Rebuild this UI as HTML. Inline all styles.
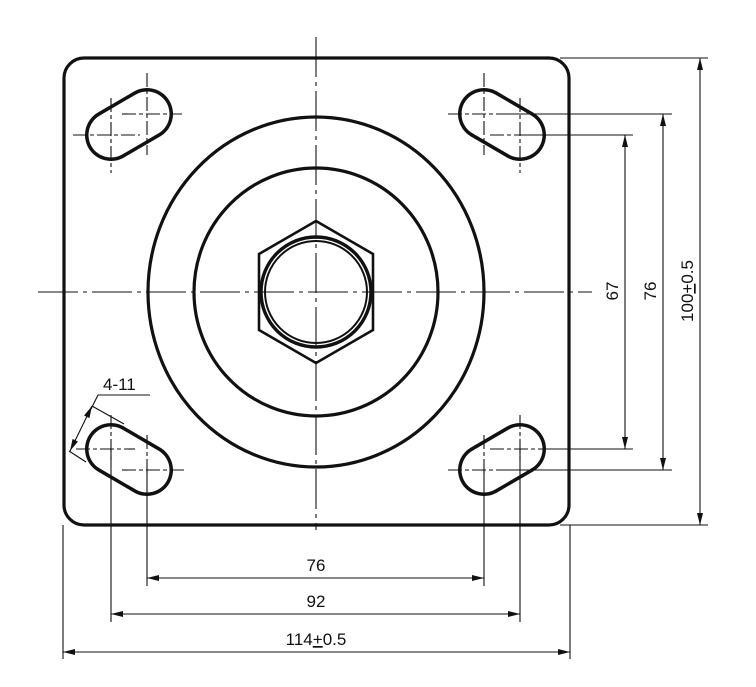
<!DOCTYPE html>
<html><head><style>
html,body{margin:0;padding:0;background:#fff;width:756px;height:687px;overflow:hidden}
svg{display:block}
text{font-family:"Liberation Sans",sans-serif;font-size:17px;fill:#111}
</style></head><body>
<svg width="756" height="687" viewBox="0 0 756 687" xmlns="http://www.w3.org/2000/svg">
<defs>
<marker id="a" viewBox="0 0 12 6" refX="12" refY="3" markerWidth="12" markerHeight="6" orient="auto-start-reverse" markerUnits="userSpaceOnUse"><path d="M0,0 L12,3 L0,6 z" fill="#111"/></marker>
</defs>
<g fill="none" stroke="#111">
<rect x="64" y="58" width="505" height="467" rx="20" stroke-width="3.2"/>
<ellipse cx="316" cy="292" rx="168" ry="175" stroke-width="3.2"/>
<ellipse cx="316" cy="292" rx="122" ry="124" stroke-width="3.2"/>
<polygon points="316,221 373,254 373,330 316,363 259,330 259,254" stroke-width="2.6"/>
<circle cx="316" cy="292" r="55" stroke-width="3.4"/>
<circle cx="316" cy="292" r="51" stroke-width="2"/>
<line x1="147" y1="114" x2="111" y2="135" stroke-width="52" stroke-linecap="round" stroke="#111"/>
<line x1="147" y1="114" x2="111" y2="135" stroke-width="45" stroke-linecap="round" stroke="#fff"/>
<line x1="484" y1="114" x2="520" y2="135" stroke-width="52" stroke-linecap="round" stroke="#111"/>
<line x1="484" y1="114" x2="520" y2="135" stroke-width="45" stroke-linecap="round" stroke="#fff"/>
<line x1="111" y1="449" x2="147" y2="470" stroke-width="52" stroke-linecap="round" stroke="#111"/>
<line x1="111" y1="449" x2="147" y2="470" stroke-width="45" stroke-linecap="round" stroke="#fff"/>
<line x1="520" y1="449" x2="484" y2="470" stroke-width="52" stroke-linecap="round" stroke="#111"/>
<line x1="520" y1="449" x2="484" y2="470" stroke-width="45" stroke-linecap="round" stroke="#fff"/>
</g>
<g stroke="#111" stroke-width="1.1" fill="none">
<line x1="316" y1="37" x2="316" y2="530" stroke-dasharray="40,5,4,5"/>
<line x1="38" y1="292" x2="592" y2="292" stroke-dasharray="40,5,4,5"/>
<g stroke-dasharray="14,3,4,3">
<line x1="147" y1="73" x2="147" y2="155"/><line x1="111" y1="98" x2="111" y2="173"/>
<line x1="122" y1="114" x2="182" y2="114"/><line x1="73" y1="135" x2="140" y2="135"/>
<line x1="484" y1="73" x2="484" y2="155"/><line x1="520" y1="98" x2="520" y2="173"/>
<line x1="448" y1="114" x2="500" y2="114"/><line x1="490" y1="135" x2="545" y2="135"/>
<line x1="111" y1="415" x2="111" y2="460"/><line x1="147" y1="435" x2="147" y2="475"/>
<line x1="76" y1="449" x2="135" y2="449"/><line x1="122" y1="470" x2="185" y2="470"/>
<line x1="520" y1="415" x2="520" y2="460"/><line x1="484" y1="435" x2="484" y2="475"/>
<line x1="490" y1="449" x2="545" y2="449"/><line x1="448" y1="470" x2="500" y2="470"/>
</g>
<line x1="147" y1="470" x2="147" y2="586"/><line x1="484" y1="470" x2="484" y2="586"/>
<line x1="111" y1="449" x2="111" y2="622"/><line x1="520" y1="449" x2="520" y2="622"/>
<line x1="63" y1="525" x2="63" y2="659"/><line x1="570" y1="525" x2="570" y2="659"/>
<line x1="147" y1="578" x2="484" y2="578" marker-start="url(#a)" marker-end="url(#a)"/>
<line x1="111" y1="614" x2="520" y2="614" marker-start="url(#a)" marker-end="url(#a)"/>
<line x1="63" y1="652" x2="570" y2="652" marker-start="url(#a)" marker-end="url(#a)"/>
<line x1="500" y1="114" x2="672" y2="114"/><line x1="520" y1="135" x2="633" y2="135"/>
<line x1="545" y1="449" x2="633" y2="449"/><line x1="500" y1="470" x2="672" y2="470"/>
<line x1="560" y1="58" x2="708" y2="58"/><line x1="560" y1="525" x2="708" y2="525"/>
<line x1="625" y1="135" x2="625" y2="449" marker-start="url(#a)" marker-end="url(#a)"/>
<line x1="663" y1="114" x2="663" y2="470" marker-start="url(#a)" marker-end="url(#a)"/>
<line x1="700" y1="58" x2="700" y2="525" marker-start="url(#a)" marker-end="url(#a)"/>
<line x1="98" y1="395" x2="150" y2="395"/>
<line x1="98" y1="395" x2="91" y2="409"/>
<line x1="92" y1="406" x2="70" y2="451" marker-start="url(#a)" marker-end="url(#a)"/>
<line x1="92" y1="406" x2="124" y2="424"/>
<line x1="69" y1="451" x2="86" y2="462"/>
</g>
<text x="316" y="571" text-anchor="middle">76</text>
<text x="316" y="607" text-anchor="middle">92</text>
<text x="316" y="645" text-anchor="middle">114<tspan text-decoration="underline">+</tspan>0.5</text>
<text x="103" y="390">4-11</text>
<text transform="translate(618,291) rotate(-90)" text-anchor="middle">67</text>
<text transform="translate(656,291) rotate(-90)" text-anchor="middle">76</text>
<text transform="translate(693,291) rotate(-90)" text-anchor="middle">100<tspan text-decoration="underline">+</tspan>0.5</text>
</svg>
</body></html>
